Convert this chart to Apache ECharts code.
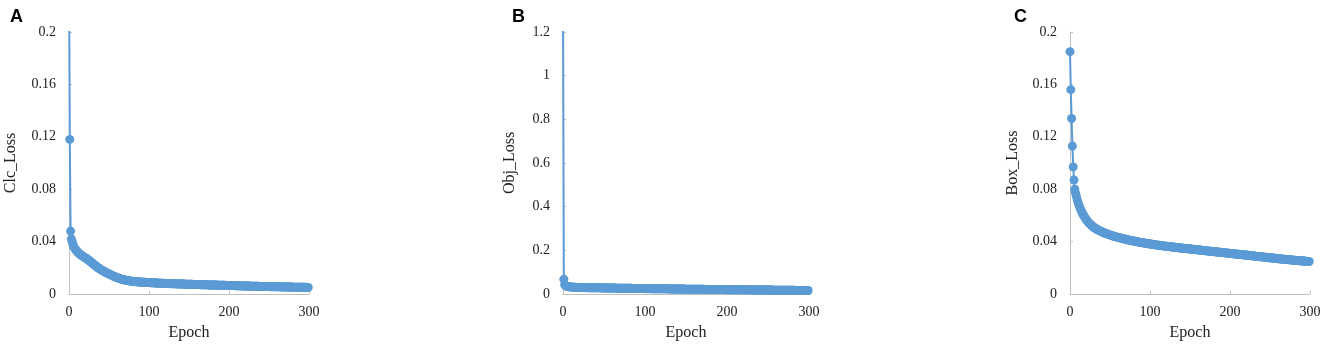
<!DOCTYPE html>
<html>
<head>
<meta charset="utf-8">
<script src="https://cdn.jsdelivr.net/npm/echarts@6/dist/echarts.min.js"></script>
<style>
  html, body { margin: 0; padding: 0; background: #fff; }
  #chart { width: 1325px; height: 346px; }
</style>
</head>
<body>
<div id="chart"></div>
<script>
// 数据：每个 epoch 一个点 (0..299)
const clcLoss = [
  0.25, 0.118, 0.048, 0.042, 0.0400, 0.0380, 0.0362, 0.0350, 0.0340, 0.0332,
  0.0325, 0.0318, 0.0312, 0.0307, 0.0302, 0.0297, 0.0293, 0.0289, 0.0285, 0.0281,
  0.0277, 0.0273, 0.0269, 0.0265, 0.0261, 0.0256, 0.0251, 0.0246, 0.0241, 0.0236,
  0.0231, 0.0226, 0.0221, 0.0216, 0.0211, 0.0206, 0.0202, 0.0198, 0.0194, 0.0190,
  0.0186, 0.0182, 0.0178, 0.0175, 0.0171, 0.0168, 0.0165, 0.0162, 0.0159, 0.0156,
  0.0153, 0.0150, 0.0147, 0.0144, 0.0141, 0.0138, 0.0135, 0.0132, 0.0130, 0.0127,
  0.0125, 0.0123, 0.0121, 0.0119, 0.0117, 0.0115, 0.0113, 0.0111, 0.0110, 0.0108,
  0.0107, 0.0105, 0.0104, 0.0103, 0.0102, 0.0101, 0.0100, 0.0099, 0.0098, 0.0097,
  0.0096, 0.0096, 0.0095, 0.0094, 0.0094, 0.0093, 0.0093, 0.0092, 0.0092, 0.0091,
  0.0091, 0.0090, 0.0090, 0.0089, 0.0089, 0.0089, 0.0088, 0.0088, 0.0088, 0.0087,
  0.0087, 0.0087, 0.0086, 0.0086, 0.0086, 0.0085, 0.0085, 0.0085, 0.0084, 0.0084,
  0.0084, 0.0084, 0.0083, 0.0083, 0.0083, 0.0082, 0.0082, 0.0082, 0.0082, 0.0081,
  0.0081, 0.0081, 0.0081, 0.0080, 0.0080, 0.0080, 0.0080, 0.0079, 0.0079, 0.0079,
  0.0079, 0.0078, 0.0078, 0.0078, 0.0078, 0.0077, 0.0077, 0.0077, 0.0077, 0.0077,
  0.0076, 0.0076, 0.0076, 0.0076, 0.0076, 0.0075, 0.0075, 0.0075, 0.0075, 0.0075,
  0.0074, 0.0074, 0.0074, 0.0074, 0.0074, 0.0073, 0.0073, 0.0073, 0.0073, 0.0073,
  0.0072, 0.0072, 0.0072, 0.0072, 0.0072, 0.0071, 0.0071, 0.0071, 0.0071, 0.0071,
  0.0070, 0.0070, 0.0070, 0.0070, 0.0070, 0.0069, 0.0069, 0.0069, 0.0069, 0.0069,
  0.0068, 0.0068, 0.0068, 0.0068, 0.0068, 0.0067, 0.0067, 0.0067, 0.0067, 0.0067,
  0.0066, 0.0066, 0.0066, 0.0066, 0.0066, 0.0066, 0.0065, 0.0065, 0.0065, 0.0065,
  0.0065, 0.0065, 0.0064, 0.0064, 0.0064, 0.0064, 0.0064, 0.0064, 0.0063, 0.0063,
  0.0063, 0.0063, 0.0063, 0.0063, 0.0062, 0.0062, 0.0062, 0.0062, 0.0062, 0.0062,
  0.0061, 0.0061, 0.0061, 0.0061, 0.0061, 0.0061, 0.0060, 0.0060, 0.0060, 0.0060,
  0.0060, 0.0060, 0.0059, 0.0059, 0.0059, 0.0059, 0.0059, 0.0059, 0.0058, 0.0058,
  0.0058, 0.0058, 0.0058, 0.0058, 0.0057, 0.0057, 0.0057, 0.0057, 0.0057, 0.0057,
  0.0057, 0.0056, 0.0056, 0.0056, 0.0056, 0.0056, 0.0056, 0.0056, 0.0055, 0.0055,
  0.0055, 0.0055, 0.0055, 0.0055, 0.0055, 0.0054, 0.0054, 0.0054, 0.0054, 0.0054,
  0.0054, 0.0054, 0.0053, 0.0053, 0.0053, 0.0053, 0.0053, 0.0053, 0.0053, 0.0053,
  0.0052, 0.0052, 0.0052, 0.0052, 0.0052, 0.0052, 0.0052, 0.0052, 0.0051, 0.0051,
  0.0051, 0.0051, 0.0051, 0.0051, 0.0051, 0.0051, 0.0051, 0.0050, 0.0050, 0.0050
];

const objLoss = [
  1.35, 0.067, 0.042, 0.038, 0.036, 0.035, 0.034, 0.0335, 0.033, 0.0325,
  0.0320, 0.0316, 0.0313, 0.0310, 0.0307, 0.0305, 0.0303, 0.0301, 0.0299, 0.0297,
  0.0295, 0.0295, 0.0294, 0.0294, 0.0293, 0.0293, 0.0292, 0.0292, 0.0291, 0.0291,
  0.0290, 0.0289, 0.0289, 0.0288, 0.0288, 0.0287, 0.0286, 0.0286, 0.0285, 0.0285,
  0.0284, 0.0283, 0.0283, 0.0282, 0.0282, 0.0281, 0.0280, 0.0280, 0.0279, 0.0279,
  0.0278, 0.0277, 0.0277, 0.0276, 0.0276, 0.0275, 0.0274, 0.0274, 0.0273, 0.0273,
  0.0272, 0.0271, 0.0271, 0.0270, 0.0270, 0.0269, 0.0268, 0.0268, 0.0267, 0.0267,
  0.0266, 0.0265, 0.0265, 0.0264, 0.0264, 0.0263, 0.0262, 0.0262, 0.0261, 0.0261,
  0.0260, 0.0259, 0.0259, 0.0258, 0.0258, 0.0257, 0.0256, 0.0256, 0.0255, 0.0255,
  0.0254, 0.0253, 0.0253, 0.0252, 0.0252, 0.0251, 0.0250, 0.0250, 0.0249, 0.0249,
  0.0248, 0.0247, 0.0247, 0.0246, 0.0246, 0.0245, 0.0245, 0.0244, 0.0244, 0.0243,
  0.0243, 0.0242, 0.0242, 0.0241, 0.0241, 0.0240, 0.0240, 0.0239, 0.0239, 0.0238,
  0.0238, 0.0237, 0.0237, 0.0236, 0.0236, 0.0235, 0.0235, 0.0234, 0.0234, 0.0233,
  0.0233, 0.0232, 0.0232, 0.0231, 0.0231, 0.0230, 0.0230, 0.0229, 0.0229, 0.0228,
  0.0228, 0.0227, 0.0227, 0.0226, 0.0226, 0.0225, 0.0225, 0.0224, 0.0224, 0.0223,
  0.0223, 0.0222, 0.0222, 0.0221, 0.0221, 0.0220, 0.0220, 0.0219, 0.0219, 0.0218,
  0.0218, 0.0217, 0.0217, 0.0216, 0.0216, 0.0215, 0.0215, 0.0214, 0.0214, 0.0213,
  0.0213, 0.0212, 0.0212, 0.0211, 0.0211, 0.0210, 0.0210, 0.0209, 0.0209, 0.0208,
  0.0208, 0.0208, 0.0207, 0.0207, 0.0206, 0.0206, 0.0205, 0.0205, 0.0204, 0.0204,
  0.0204, 0.0203, 0.0203, 0.0202, 0.0202, 0.0202, 0.0201, 0.0201, 0.0200, 0.0200,
  0.0200, 0.0199, 0.0199, 0.0198, 0.0198, 0.0198, 0.0197, 0.0197, 0.0196, 0.0196,
  0.0196, 0.0195, 0.0195, 0.0194, 0.0194, 0.0194, 0.0193, 0.0193, 0.0192, 0.0192,
  0.0192, 0.0191, 0.0191, 0.0190, 0.0190, 0.0190, 0.0189, 0.0189, 0.0188, 0.0188,
  0.0188, 0.0187, 0.0187, 0.0186, 0.0186, 0.0186, 0.0185, 0.0185, 0.0184, 0.0184,
  0.0184, 0.0183, 0.0183, 0.0182, 0.0182, 0.0182, 0.0181, 0.0181, 0.0180, 0.0180,
  0.0180, 0.0179, 0.0179, 0.0178, 0.0178, 0.0178, 0.0177, 0.0177, 0.0176, 0.0176,
  0.0176, 0.0175, 0.0175, 0.0174, 0.0174, 0.0174, 0.0173, 0.0173, 0.0172, 0.0172,
  0.0172, 0.0171, 0.0171, 0.0170, 0.0170, 0.0170, 0.0169, 0.0169, 0.0168, 0.0168,
  0.0168, 0.0167, 0.0167, 0.0166, 0.0166, 0.0166, 0.0165, 0.0165, 0.0164, 0.0164,
  0.0164, 0.0163, 0.0163, 0.0162, 0.0162, 0.0162, 0.0161, 0.0161, 0.0160, 0.0160
];

const boxLoss = [
  0.185, 0.156, 0.134, 0.113, 0.097, 0.087, 0.080, 0.077, 0.0745, 0.072,
  0.0700, 0.0682, 0.0665, 0.0650, 0.0636, 0.0623, 0.0611, 0.0600, 0.0590, 0.0580,
  0.0571, 0.0563, 0.0555, 0.0548, 0.0541, 0.0535, 0.0529, 0.0523, 0.0518, 0.0513,
  0.0508, 0.0504, 0.0500, 0.0496, 0.0492, 0.0489, 0.0486, 0.0483, 0.0480, 0.0477,
  0.0474, 0.0471, 0.0469, 0.0466, 0.0464, 0.0462, 0.0459, 0.0457, 0.0455, 0.0453,
  0.0451, 0.0449, 0.0447, 0.0445, 0.0443, 0.0441, 0.0439, 0.0437, 0.0436, 0.0434,
  0.0432, 0.0431, 0.0429, 0.0427, 0.0426, 0.0424, 0.0423, 0.0421, 0.0420, 0.0418,
  0.0417, 0.0415, 0.0414, 0.0413, 0.0411, 0.0410, 0.0409, 0.0407, 0.0406, 0.0405,
  0.0404, 0.0402, 0.0401, 0.0400, 0.0399, 0.0398, 0.0397, 0.0395, 0.0394, 0.0393,
  0.0392, 0.0391, 0.0390, 0.0389, 0.0388, 0.0387, 0.0386, 0.0385, 0.0384, 0.0383,
  0.0382, 0.0381, 0.0380, 0.0379, 0.0378, 0.0377, 0.0376, 0.0375, 0.0374, 0.0374,
  0.0373, 0.0372, 0.0371, 0.0370, 0.0369, 0.0369, 0.0368, 0.0367, 0.0366, 0.0365,
  0.0365, 0.0364, 0.0363, 0.0362, 0.0362, 0.0361, 0.0360, 0.0359, 0.0359, 0.0358,
  0.0357, 0.0356, 0.0356, 0.0355, 0.0354, 0.0354, 0.0353, 0.0352, 0.0351, 0.0351,
  0.0350, 0.0349, 0.0349, 0.0348, 0.0347, 0.0347, 0.0346, 0.0345, 0.0345, 0.0344,
  0.0343, 0.0343, 0.0342, 0.0341, 0.0341, 0.0340, 0.0339, 0.0339, 0.0338, 0.0337,
  0.0337, 0.0336, 0.0335, 0.0335, 0.0334, 0.0333, 0.0333, 0.0332, 0.0331, 0.0331,
  0.0330, 0.0329, 0.0329, 0.0328, 0.0327, 0.0327, 0.0326, 0.0325, 0.0325, 0.0324,
  0.0323, 0.0323, 0.0322, 0.0321, 0.0321, 0.0320, 0.0319, 0.0319, 0.0318, 0.0317,
  0.0317, 0.0316, 0.0315, 0.0315, 0.0314, 0.0313, 0.0313, 0.0312, 0.0311, 0.0311,
  0.0310, 0.0309, 0.0309, 0.0308, 0.0307, 0.0307, 0.0306, 0.0305, 0.0305, 0.0304,
  0.0303, 0.0303, 0.0302, 0.0301, 0.0301, 0.0300, 0.0299, 0.0299, 0.0298, 0.0297,
  0.0297, 0.0296, 0.0295, 0.0295, 0.0294, 0.0293, 0.0293, 0.0292, 0.0291, 0.0291,
  0.0290, 0.0289, 0.0289, 0.0288, 0.0287, 0.0287, 0.0286, 0.0285, 0.0285, 0.0284,
  0.0283, 0.0283, 0.0282, 0.0281, 0.0281, 0.0280, 0.0279, 0.0279, 0.0278, 0.0277,
  0.0277, 0.0276, 0.0275, 0.0275, 0.0274, 0.0273, 0.0273, 0.0272, 0.0271, 0.0271,
  0.0270, 0.0269, 0.0269, 0.0268, 0.0267, 0.0267, 0.0266, 0.0265, 0.0265, 0.0264,
  0.0264, 0.0263, 0.0262, 0.0262, 0.0261, 0.0261, 0.0260, 0.0259, 0.0259, 0.0258,
  0.0258, 0.0257, 0.0256, 0.0256, 0.0255, 0.0255, 0.0254, 0.0254, 0.0253, 0.0253,
  0.0252, 0.0252, 0.0251, 0.0251, 0.0250, 0.0250, 0.0249, 0.0249, 0.0248, 0.0248
];

// 坐标轴刻度
const epochTicks = [0, 100, 200, 300];
const clcTicks = [0, 0.04, 0.08, 0.12, 0.16, 0.2];
const objTicks = [0, 0.2, 0.4, 0.6, 0.8, 1, 1.2];
const boxTicks = [0, 0.04, 0.08, 0.12, 0.16, 0.2];

const panelLetters = ['A', 'B', 'C'];
const yNames = ['Clc_Loss', 'Obj_Loss', 'Box_Loss'];
const xName = 'Epoch';

const BLUE = '#5b9bd5';
const AXIS_GRAY = '#c0c0c0';
const TEXT = '#222';
const SERIF = '"Liberation Serif", "Times New Roman", serif';

const chartDom = document.getElementById('chart');
const myChart = echarts.init(chartDom);

// 每个面板的网格位置
const grids = [
    { left: 69, top: 32, width: 240, height: 262, containLabel: false, outerBoundsMode: 'none' },
    { left: 563, top: 32, width: 246, height: 262, containLabel: false, outerBoundsMode: 'none' },
    { left: 1070, top: 32, width: 240, height: 262, containLabel: false, outerBoundsMode: 'none' }
];
const yNameGaps = [50, 45, 49];
const yTickSets = [clcTicks, objTicks, boxTicks];
const seriesData = [clcLoss, objLoss, boxLoss];
const letterLeft = [5, 507, 1009];

function toPairs(values) {
    return values.map(function (v, i) { return [i, v]; });
}

const option = {
    animation: false,
    title: panelLetters.map(function (t, i) {
        return {
            text: t,
            left: letterLeft[i],
            top: 3,
            textStyle: { fontFamily: 'Liberation Sans, Arial, sans-serif', fontWeight: 'bold', fontSize: 18, color: '#000' }
        };
    }),
    grid: grids,
    xAxis: grids.map(function (g, i) {
        return {
            type: 'value',
            gridIndex: i,
            min: epochTicks[0],
            max: epochTicks[epochTicks.length - 1],
            interval: epochTicks[1] - epochTicks[0],
            name: xName,
            nameLocation: 'middle',
            nameGap: 31,
            nameTextStyle: { fontFamily: SERIF, fontSize: 16, color: TEXT },
            axisLine: { show: true, lineStyle: { color: AXIS_GRAY, width: 1 } },
            axisTick: { show: true, inside: true, length: 3, lineStyle: { color: AXIS_GRAY } },
            axisLabel: { fontFamily: SERIF, fontSize: 14, color: TEXT, margin: 11 },
            splitLine: { show: false }
        };
    }),
    yAxis: grids.map(function (g, i) {
        const ticks = yTickSets[i];
        return {
            type: 'value',
            gridIndex: i,
            min: ticks[0],
            max: ticks[ticks.length - 1],
            interval: ticks[1] - ticks[0],
            name: yNames[i],
            nameLocation: 'middle',
            nameGap: yNameGaps[i],
            nameRotate: 90,
            nameTextStyle: { fontFamily: SERIF, fontSize: 16, color: TEXT },
            axisLine: { show: true, lineStyle: { color: AXIS_GRAY, width: 1 } },
            axisTick: { show: true, inside: true, length: 3, lineStyle: { color: AXIS_GRAY } },
            axisLabel: { fontFamily: SERIF, fontSize: 14, color: TEXT, margin: 13 },
            splitLine: { show: false }
        };
    }),
    series: seriesData.map(function (vals, i) {
        return {
            type: 'line',
            xAxisIndex: i,
            yAxisIndex: i,
            data: toPairs(vals),
            clip: true,
            symbol: 'circle',
            symbolSize: 9,
            showSymbol: true,
            itemStyle: { color: BLUE },
            lineStyle: { color: BLUE, width: 2 }
        };
    })
};

myChart.setOption(option);

window.addEventListener('resize', function () {
    myChart.resize();
});
</script>
</body>
</html>
